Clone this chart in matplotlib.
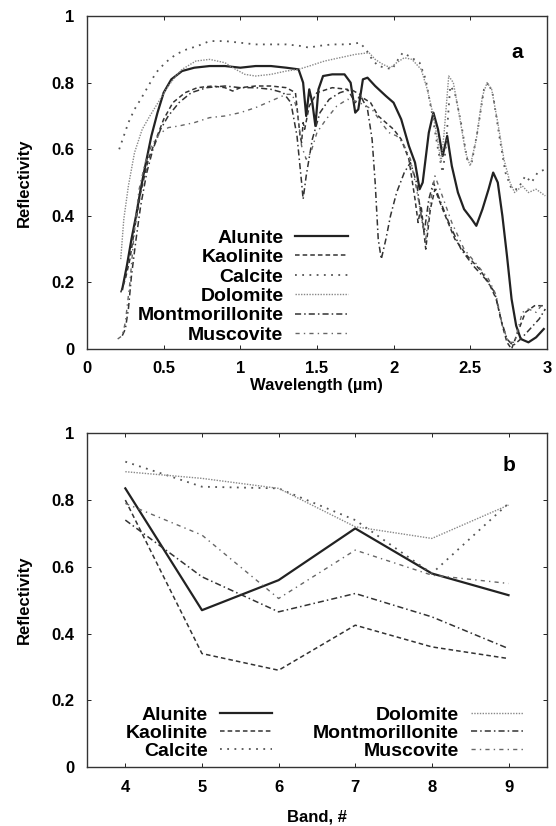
import matplotlib
matplotlib.use("Agg")
import matplotlib.pyplot as plt

plt.rcParams['font.family'] = ['Liberation Sans', 'DejaVu Sans']
plt.rcParams['font.weight'] = 'bold'

# ---- panel a: laboratory spectra (wavelength in um, reflectivity) ----
alunite_wl = [0.23, 0.26, 0.29, 0.32, 0.35, 0.38, 0.42, 0.46, 0.50, 0.55, 0.62, 0.70,
              0.80, 0.90, 1.00, 1.10, 1.20, 1.30, 1.38, 1.41, 1.43, 1.45, 1.47, 1.49,
              1.51, 1.54, 1.60, 1.68, 1.72, 1.75, 1.77, 1.80, 1.83, 1.88, 1.95, 2.00,
              2.05, 2.10, 2.14, 2.17, 2.19, 2.23, 2.26, 2.29, 2.32, 2.35, 2.38, 2.42,
              2.46, 2.51, 2.54, 2.58, 2.62, 2.65, 2.68, 2.71, 2.74, 2.77, 2.80, 2.83,
              2.88, 2.93, 2.98]
alunite_r = [0.18, 0.25, 0.33, 0.40, 0.48, 0.55, 0.64, 0.71, 0.77, 0.81, 0.835, 0.845,
             0.85, 0.85, 0.845, 0.85, 0.85, 0.845, 0.84, 0.80, 0.70, 0.78, 0.74, 0.67,
             0.78, 0.82, 0.825, 0.825, 0.80, 0.71, 0.72, 0.81, 0.815, 0.79, 0.76, 0.74,
             0.69, 0.61, 0.56, 0.48, 0.50, 0.65, 0.71, 0.66, 0.58, 0.64, 0.55, 0.47,
             0.42, 0.39, 0.37, 0.42, 0.48, 0.53, 0.50, 0.40, 0.28, 0.15, 0.07, 0.03,
             0.02, 0.035, 0.06]

kaolinite_wl = [0.22, 0.25, 0.28, 0.31, 0.35, 0.40, 0.45, 0.50, 0.56, 0.64, 0.72, 0.82,
                0.90, 0.95, 1.00, 1.10, 1.20, 1.30, 1.36, 1.39, 1.40, 1.41, 1.42, 1.45,
                1.50, 1.60, 1.70, 1.75, 1.78, 1.85, 1.90, 1.95, 2.00, 2.05, 2.10, 2.14,
                2.16, 2.18, 2.21, 2.24, 2.27, 2.32, 2.40, 2.48, 2.56, 2.62, 2.67, 2.71,
                2.74, 2.77, 2.81, 2.86, 2.92, 2.98]
kaolinite_r = [0.17, 0.21, 0.27, 0.36, 0.47, 0.57, 0.63, 0.69, 0.74, 0.77, 0.785, 0.79,
               0.785, 0.775, 0.785, 0.79, 0.79, 0.785, 0.77, 0.64, 0.62, 0.68, 0.66, 0.73,
               0.77, 0.785, 0.78, 0.74, 0.76, 0.74, 0.70, 0.68, 0.66, 0.63, 0.57, 0.45,
               0.38, 0.43, 0.30, 0.42, 0.48, 0.42, 0.33, 0.28, 0.24, 0.20, 0.15, 0.07,
               0.02, 0.00, 0.05, 0.11, 0.13, 0.13]

calcite_wl = [0.21, 0.24, 0.27, 0.31, 0.35, 0.40, 0.45, 0.51, 0.58, 0.65, 0.72, 0.80,
              0.90, 1.00, 1.10, 1.20, 1.30, 1.40, 1.45, 1.50, 1.60, 1.70, 1.78, 1.82,
              1.86, 1.90, 1.95, 1.99, 2.03, 2.06, 2.10, 2.17, 2.21, 2.25, 2.29, 2.32,
              2.34, 2.37, 2.40, 2.44, 2.48, 2.51, 2.55, 2.59, 2.62, 2.65, 2.69, 2.73,
              2.77, 2.81, 2.86, 2.90, 2.94, 2.99]
calcite_r = [0.60, 0.64, 0.68, 0.72, 0.75, 0.79, 0.83, 0.86, 0.885, 0.90, 0.91, 0.925,
             0.925, 0.92, 0.915, 0.915, 0.915, 0.91, 0.905, 0.91, 0.915, 0.915, 0.92, 0.90,
             0.87, 0.85, 0.845, 0.84, 0.87, 0.89, 0.88, 0.86, 0.81, 0.71, 0.60, 0.53,
             0.60, 0.79, 0.77, 0.68, 0.57, 0.56, 0.66, 0.78, 0.80, 0.76, 0.64, 0.53,
             0.48, 0.48, 0.52, 0.50, 0.53, 0.54]

dolomite_wl = [0.22, 0.24, 0.27, 0.31, 0.36, 0.41, 0.45, 0.53, 0.58, 0.62, 0.71, 0.80,
               0.90, 0.97, 1.03, 1.10, 1.20, 1.30, 1.38, 1.45, 1.55, 1.65, 1.75, 1.84,
               1.88, 1.93, 1.98, 2.02, 2.07, 2.12, 2.18, 2.22, 2.26, 2.29, 2.31, 2.33,
               2.36, 2.39, 2.43, 2.47, 2.50, 2.54, 2.58, 2.61, 2.64, 2.68, 2.72, 2.76,
               2.79, 2.84, 2.88, 2.93, 2.99]
dolomite_r = [0.27, 0.39, 0.49, 0.59, 0.66, 0.70, 0.73, 0.79, 0.82, 0.84, 0.865, 0.87,
              0.86, 0.84, 0.825, 0.82, 0.825, 0.835, 0.84, 0.85, 0.865, 0.875, 0.885, 0.89,
              0.87, 0.855, 0.845, 0.86, 0.875, 0.87, 0.84, 0.78, 0.70, 0.62, 0.56, 0.65,
              0.82, 0.80, 0.70, 0.59, 0.55, 0.63, 0.76, 0.80, 0.78, 0.68, 0.57, 0.50,
              0.47, 0.49, 0.47, 0.48, 0.46]

montmor_wl = [0.23, 0.25, 0.27, 0.29, 0.32, 0.35, 0.39, 0.43, 0.48, 0.53, 0.60, 0.68,
              0.78, 0.90, 1.00, 1.10, 1.20, 1.28, 1.33, 1.37, 1.40, 1.41, 1.43, 1.47,
              1.52, 1.58, 1.65, 1.72, 1.78, 1.83, 1.86, 1.88, 1.90, 1.92, 1.95, 1.98,
              2.02, 2.07, 2.11, 2.15, 2.18, 2.20, 2.23, 2.26, 2.30, 2.36, 2.44, 2.52,
              2.60, 2.66, 2.70, 2.74, 2.78, 2.83, 2.89, 2.95, 2.99]
montmor_r = [0.04, 0.06, 0.12, 0.22, 0.33, 0.43, 0.53, 0.60, 0.66, 0.70, 0.74, 0.77,
             0.785, 0.79, 0.785, 0.785, 0.78, 0.77, 0.74, 0.64, 0.50, 0.45, 0.52, 0.63,
             0.71, 0.75, 0.77, 0.78, 0.765, 0.72, 0.63, 0.50, 0.33, 0.27, 0.33, 0.40,
             0.47, 0.53, 0.56, 0.50, 0.40, 0.35, 0.45, 0.50, 0.45, 0.38, 0.30, 0.25,
             0.21, 0.17, 0.09, 0.03, 0.01, 0.03, 0.06, 0.09, 0.12]

muscovite_wl = [0.20, 0.23, 0.25, 0.28, 0.31, 0.34, 0.38, 0.42, 0.47, 0.53, 0.60, 0.70,
                0.80, 0.90, 1.00, 1.10, 1.20, 1.30, 1.34, 1.37, 1.40, 1.43, 1.46, 1.50,
                1.56, 1.63, 1.70, 1.75, 1.80, 1.86, 1.92, 1.97, 2.02, 2.06, 2.11, 2.15,
                2.18, 2.21, 2.24, 2.27, 2.31, 2.38, 2.46, 2.55, 2.62, 2.67, 2.71, 2.75,
                2.79, 2.84, 2.88, 2.93, 2.98]
muscovite_r = [0.03, 0.04, 0.08, 0.20, 0.36, 0.48, 0.56, 0.61, 0.645, 0.665, 0.67, 0.68,
               0.695, 0.70, 0.71, 0.725, 0.745, 0.765, 0.765, 0.72, 0.61, 0.57, 0.59, 0.65,
               0.69, 0.73, 0.75, 0.745, 0.735, 0.72, 0.68, 0.65, 0.64, 0.62, 0.57, 0.48,
               0.40, 0.33, 0.44, 0.52, 0.47, 0.38, 0.30, 0.25, 0.21, 0.16, 0.07, 0.02,
               0.02, 0.11, 0.12, 0.11, 0.14]

# ---- panel b: band-averaged reflectivity ----
bands = [4, 5, 6, 7, 8, 9]
alunite_b = [0.835, 0.47, 0.56, 0.715, 0.58, 0.515]
kaolinite_b = [0.80, 0.34, 0.29, 0.425, 0.36, 0.325]
calcite_b = [0.915, 0.84, 0.835, 0.74, 0.58, 0.79]
dolomite_b = [0.885, 0.865, 0.835, 0.72, 0.685, 0.785]
montmor_b = [0.74, 0.57, 0.465, 0.52, 0.45, 0.355]
muscovite_b = [0.79, 0.695, 0.505, 0.65, 0.575, 0.55]

names = ['Alunite', 'Kaolinite', 'Calcite', 'Dolomite', 'Montmorillonite', 'Muscovite']
styles = {
    'Alunite': dict(color='#222222', ls='-', lw=1.6),
    'Kaolinite': dict(color='#333333', ls=(0, (3, 2)), lw=1.1),
    'Calcite': dict(color='#555555', ls=(0, (1, 3)), lw=1.3),
    'Dolomite': dict(color='#888888', ls=(0, (1, 1)), lw=1.0),
    'Montmorillonite': dict(color='#333333', ls=(0, (4, 2, 1, 2)), lw=1.1),
    'Muscovite': dict(color='#666666', ls=(0, (3, 3, 1, 3)), lw=1.0),
}

spectra = [(alunite_wl, alunite_r), (kaolinite_wl, kaolinite_r), (calcite_wl, calcite_r),
           (dolomite_wl, dolomite_r), (montmor_wl, montmor_r), (muscovite_wl, muscovite_r)]
band_vals = [alunite_b, kaolinite_b, calcite_b, dolomite_b, montmor_b, muscovite_b]

fig = plt.figure(figsize=(5.56, 8.26), dpi=100)
ax1 = fig.add_axes([0.1565, 0.5775, 0.827, 0.403])
ax2 = fig.add_axes([0.1565, 0.0714, 0.827, 0.404])

for name, (wl, r) in zip(names, spectra):
    ax1.plot(wl, r, label=name, **styles[name])

for name, vals in zip(names, band_vals):
    ax2.plot(bands, vals, label=name, **styles[name])

ax1.set_xlim(0, 3)
ax1.set_ylim(0, 1)
ax1.set_xticks([0, 0.5, 1, 1.5, 2, 2.5, 3])
ax1.set_xticklabels(['0', '0.5', '1', '1.5', '2', '2.5', '3'])
ax1.set_yticks([0, 0.2, 0.4, 0.6, 0.8, 1])
ax1.set_yticklabels(['0', '0.2', '0.4', '0.6', '0.8', '1'])
ax1.set_xlabel('Wavelength (\u00b5m)', fontsize=12, fontweight='bold', labelpad=1)
ax1.set_ylabel('Reflectivity', fontsize=12, fontweight='bold', labelpad=14)
ax1.text(0.935, 0.89, 'a', transform=ax1.transAxes, fontsize=15, fontweight='bold',
         ha='center', va='center')

ax2.set_xlim(3.5, 9.5)
ax2.set_ylim(0, 1)
ax2.set_xticks(bands)
ax2.set_yticks([0, 0.2, 0.4, 0.6, 0.8, 1])
ax2.set_yticklabels(['0', '0.2', '0.4', '0.6', '0.8', '1'])
ax2.set_xlabel('Band, #', fontsize=12, fontweight='bold', labelpad=11)
ax2.set_ylabel('Reflectivity', fontsize=12, fontweight='bold', labelpad=14)
ax2.text(0.918, 0.905, 'b', transform=ax2.transAxes, fontsize=15, fontweight='bold',
         ha='center', va='center')

for ax in (ax1, ax2):
    ax.tick_params(direction='in', top=True, right=True, length=3, width=0.6,
                   labelsize=12, pad=9)
    for lab in ax.get_xticklabels() + ax.get_yticklabels():
        lab.set_fontweight('bold')
    for sp in ax.spines.values():
        sp.set_linewidth(1.0)
        sp.set_color('#333333')

ax1.legend(loc='lower left', bbox_to_anchor=(0.08, -0.025), frameon=False,
           markerfirst=False, prop=dict(size=14, weight='bold'),
           handlelength=2.7, handletextpad=0.6, labelspacing=0.09, borderpad=0.2)

ax2.legend(loc='lower left', bbox_to_anchor=(0.055, -0.02), frameon=False, ncol=2,
           markerfirst=False, prop=dict(size=14, weight='bold'),
           handlelength=2.7, handletextpad=0.6, labelspacing=0.02, borderpad=0.2,
           columnspacing=2.1)

fig.savefig('out.png', dpi=100)
